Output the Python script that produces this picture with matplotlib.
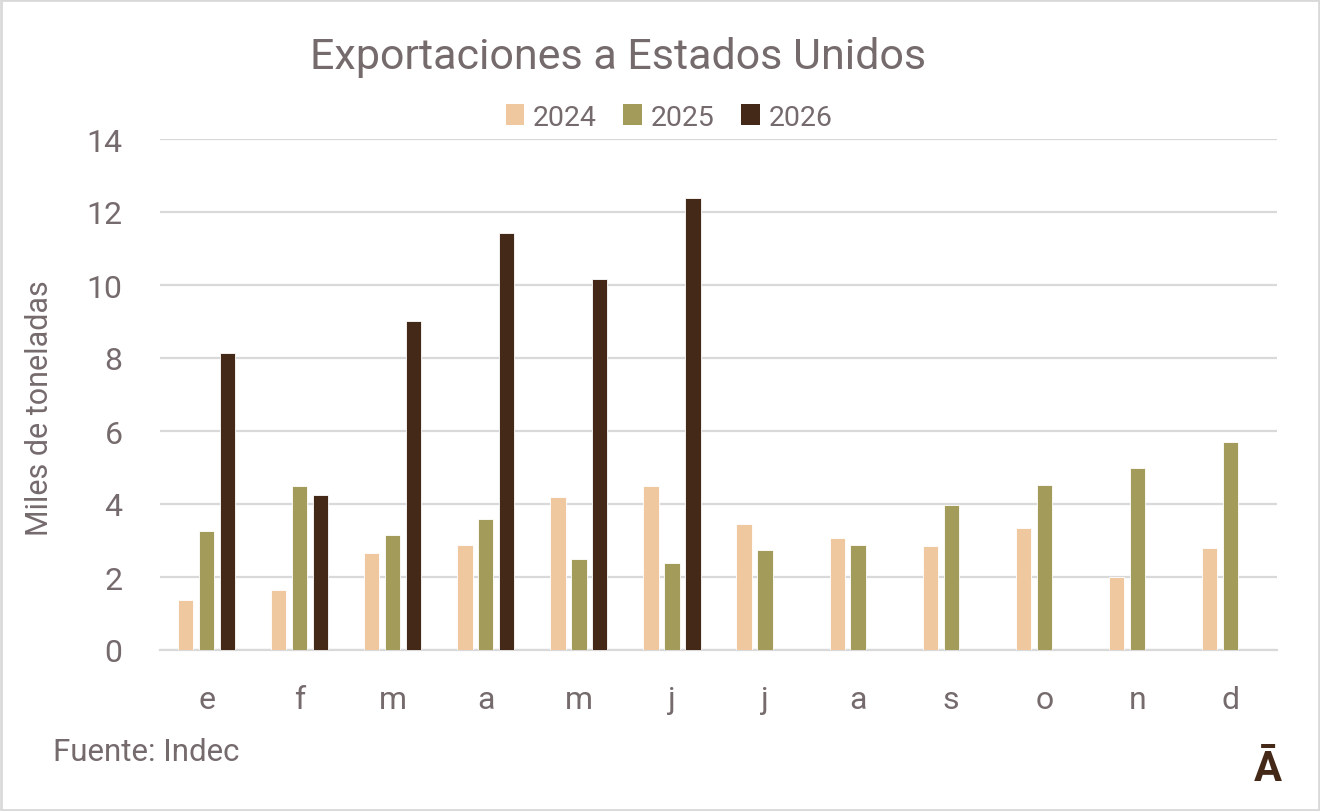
import matplotlib
matplotlib.use('Agg')
import matplotlib.pyplot as plt
import numpy as np
from matplotlib.patches import Rectangle, Patch

months = ['e', 'f', 'm', 'a', 'm', 'j', 'j', 'a', 's', 'o', 'n', 'd']
years = ['2024', '2025', '2026']
v2024 = [1.37, 1.64, 2.66, 2.87, 4.18, 4.48, 3.46, 3.07, 2.84, 3.34, 2.00, 2.79]
v2025 = [3.25, 4.48, 3.14, 3.58, 2.50, 2.37, 2.73, 2.88, 3.97, 4.51, 4.98, 5.71]
v2026 = [8.13, 4.26, 9.01, 11.43, 10.17, 12.37]
yticks = [0, 2, 4, 6, 8, 10, 12, 14]

colors = ['#F0C8A0', '#A39B5A', '#442918']
txt = '#766B6C'
grid = '#D9D9D9'

plt.rcParams['font.family'] = ['Roboto', 'DejaVu Sans']

fig = plt.figure(figsize=(13.2, 8.12), dpi=100)
ax = fig.add_axes([160/1320, 1-651/812, (1277-160)/1320, (651-140)/812])

x = np.arange(len(months))
step = 0.225
width = 0.165
series = [v2024, v2025, v2026]
for i, vals in enumerate(series):
    xs = x[:len(vals)] + (i - 1) * step
    ax.bar(xs, vals, width=width, color=colors[i], edgecolor='white', linewidth=0.6, zorder=3)

ax.set_xlim(-0.5, len(months) - 0.5)
ax.set_ylim(0, 14)
ax.set_yticks(yticks)
ax.set_yticklabels([str(t) for t in yticks])
ax.set_xticks(x)
ax.set_xticklabels(months)
ax.yaxis.grid(True, color=grid, linewidth=1.6, zorder=0)
ax.set_axisbelow(True)
for s in ['top', 'right', 'left']:
    ax.spines[s].set_visible(False)
ax.spines['bottom'].set_color(grid)
ax.spines['bottom'].set_linewidth(1.6)
ax.tick_params(axis='both', length=0, labelcolor=txt)
ax.tick_params(axis='y', pad=27, labelsize=23)
ax.tick_params(axis='x', pad=25, labelsize=23)

fig.text(40/1320, 1-408/812, 'Miles de toneladas', rotation=90, ha='center', va='center',
         color=txt, fontsize=22)
fig.text(618/1320, 1-57/812, 'Exportaciones a Estados Unidos', ha='center', va='center',
         color=txt, fontsize=31)
fig.text(53/1320, 1-753/812, 'Fuente: Indec', ha='left', va='center', color=txt, fontsize=22.5)
fig.text(1268/1320, 1-770/812, 'Ā', ha='center', va='center', color='#442918',
         fontsize=30, fontweight='bold')

handles = [Patch(facecolor=c, label=y) for c, y in zip(colors, years)]
fig.legend(handles=handles, loc='center', bbox_to_anchor=(669/1320, 1-118/812), ncol=3,
           frameon=False, fontsize=20.5, labelcolor=txt, handlelength=0.65, handleheight=0.8,
           handletextpad=0.3, columnspacing=0.95)

fig.add_artist(Rectangle((0.001, 0.001), 0.998, 0.998, transform=fig.transFigure,
                         fill=False, edgecolor=grid, linewidth=2))

fig.savefig('out.png', dpi=100)
